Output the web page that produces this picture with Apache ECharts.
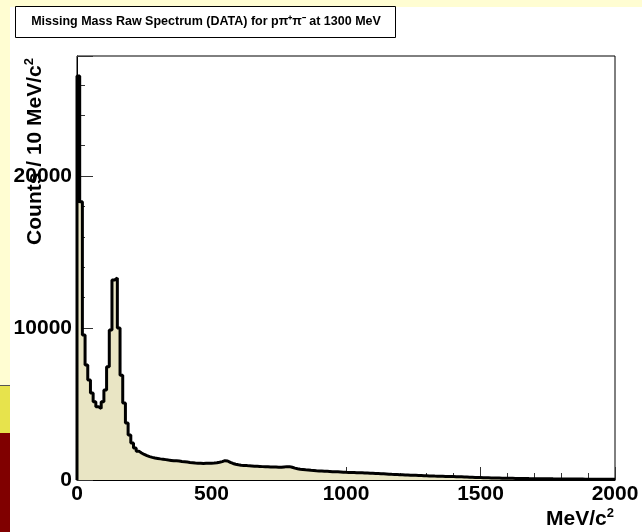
<!DOCTYPE html>
<html>
<head>
<meta charset="utf-8">
<script src="https://cdn.jsdelivr.net/npm/echarts@6/dist/echarts.min.js"></script>
<style>html,body{margin:0;padding:0;background:#fff;}#c{width:642px;height:532px;}</style>
</head>
<body>
<div id="c"></div>
<script>
// Bin width (MeV/c^2) and counts per bin
var binWidth = 10;
var counts = [
  26580, 18310, 9540, 7570, 6580, 5720, 5150, 4820, 4710, 5150,
  5920, 7450, 9870, 13160, 13290, 10000, 6900, 5070, 3750, 2960,
  2430, 2100, 1900, 1780, 1680, 1600, 1540, 1490, 1450, 1420,
  1390, 1370, 1340, 1310, 1290, 1270, 1260, 1250, 1220, 1200,
  1180, 1150, 1140, 1120, 1110, 1100, 1090, 1100, 1100, 1110,
  1120, 1140, 1170, 1210, 1270, 1250, 1160, 1090, 1040, 1000,
  970, 960, 950, 930, 920, 910, 900, 890, 880, 870,
  870, 860, 850, 850, 840, 840, 860, 880, 880, 840,
  780, 740, 710, 690, 670, 660, 640, 630, 610, 600,
  590, 580, 570, 560, 550, 545, 535, 525, 515, 505,
  500, 495, 490, 482, 475, 470, 462, 455, 448, 440,
  432, 424, 415, 406, 396, 386, 376, 368, 360, 352,
  344, 336, 328, 320, 312, 305, 298, 291, 284, 277,
  270, 263, 257, 252, 247, 242, 237, 232, 228, 224,
  220, 213, 206, 199, 192, 185, 178, 171, 164, 157,
  150, 146, 142, 138, 134, 130, 126, 122, 118, 114,
  111, 108, 105, 102, 99, 96, 94, 91, 89, 87,
  85, 83, 82, 80, 78, 77, 75, 74, 72, 71,
  69, 68, 66, 65, 63, 62, 60, 59, 57, 56,
  55, 53, 52, 51, 49, 48, 47, 45, 44, 42
];
var xTicks = [0, 500, 1000, 1500, 2000];
var yTicks = [0, 10000, 20000];
var titleText = 'Missing Mass Raw Spectrum (DATA) for p\u03c0\u207a\u03c0\u207b at 1300 MeV';
var xTitle = 'MeV/c';
var yTitle = 'Counts / 10 MeV/c';

var pts = [[0, 0]];
for (var i = 0; i < counts.length; i++) pts.push([i * binWidth, counts[i]]);
pts.push([counts.length * binWidth, counts[counts.length - 1]]);

var font = '"Liberation Sans", Arial, Helvetica, sans-serif';
var plain = function (v) { return String(v); };
var chart = echarts.init(document.getElementById('c'), null, {renderer: 'canvas'});
chart.setOption({
  animation: false,
  backgroundColor: '#ffffff',
  grid: {left: 77, right: 27, top: 56, bottom: 52, show: true, borderColor: '#000', borderWidth: 1, backgroundColor: 'transparent'},
  xAxis: {
    type: 'value', min: xTicks[0], max: xTicks[xTicks.length - 1], interval: 500,
    axisLine: {show: true, lineStyle: {color: '#000', width: 1}},
    axisTick: {show: true, inside: true, length: 13, lineStyle: {color: '#333', width: 1}},
    minorTick: {show: true, splitNumber: 5, length: 7, lineStyle: {color: '#333', width: 1}},
    splitLine: {show: false},
    axisLabel: {margin: 4, color: '#000', fontFamily: font, fontWeight: 'bold', fontSize: 21, formatter: plain}
  },
  yAxis: {
    type: 'value', min: yTicks[0], max: 27900, interval: 10000,
    axisLine: {show: true, lineStyle: {color: '#000', width: 1}},
    axisTick: {show: true, inside: true, length: 16, lineStyle: {color: '#333', width: 1}},
    minorTick: {show: true, splitNumber: 5, length: 8, lineStyle: {color: '#333', width: 1}},
    splitLine: {show: false},
    axisLabel: {margin: 5, color: '#000', fontFamily: font, fontWeight: 'bold', fontSize: 21, showMaxLabel: false, formatter: plain}
  },
  series: [{
    type: 'line', step: 'end', data: pts, symbol: 'none', clip: true,
    lineStyle: {color: '#000', width: 3},
    areaStyle: {color: '#e9e5c4', opacity: 1},
    z: 1
  }],
  graphic: [
    {type: 'rect', shape: {x: 0, y: 0, width: 642, height: 7}, style: {fill: '#fffdd2'}, silent: true, z: -10},
    {type: 'rect', shape: {x: 0, y: 0, width: 10, height: 385}, style: {fill: '#fffdd2'}, silent: true, z: -10},
    {type: 'rect', shape: {x: 0, y: 385, width: 10, height: 48}, style: {fill: '#e7e34c'}, silent: true, z: -10},
    {type: 'rect', shape: {x: 0, y: 433, width: 10, height: 99}, style: {fill: '#800000'}, silent: true, z: -10},
    {type: 'line', shape: {x1: 0, y1: 385.5, x2: 10, y2: 385.5}, style: {stroke: '#555', lineWidth: 1}, silent: true, z: -9},
    {type: 'rect', shape: {x: 15.5, y: 6.5, width: 380, height: 31}, style: {fill: '#fff', stroke: '#000', lineWidth: 1}, silent: true, z: 10},
    {type: 'text', x: 206, y: 22, silent: true, z: 11,
      style: {text: titleText, fill: '#000', font: 'bold 12.5px ' + font, align: 'center', verticalAlign: 'middle'}},
    {type: 'text', x: 614, y: 519, silent: true, z: 11,
      style: {text: xTitle + '{s|2}', fill: '#000', font: 'bold 21px ' + font, align: 'right', verticalAlign: 'middle',
        rich: {s: {fontSize: 13, fontWeight: 'bold', fontFamily: font, verticalAlign: 'top', padding: [0, 0, 12, 0], fill: '#000'}}}},
    {type: 'text', x: 35, y: 58, rotation: Math.PI / 2, silent: true, z: 11,
      style: {text: yTitle + '{s|2}', fill: '#000', font: 'bold 21px ' + font, align: 'right', verticalAlign: 'middle',
        rich: {s: {fontSize: 13, fontWeight: 'bold', fontFamily: font, verticalAlign: 'top', padding: [0, 0, 12, 0], fill: '#000'}}}}
  ]
});
</script>
</body>
</html>
